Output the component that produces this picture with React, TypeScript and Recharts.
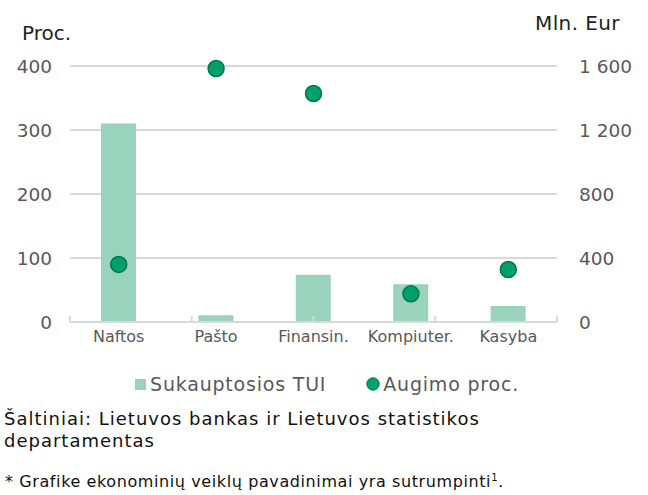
import React from "react"
import {
  ComposedChart, Bar, Line, XAxis, YAxis, CartesianGrid, Legend,
} from "recharts"

const categories = ["Naftos", "Pašto", "Finansin.", "Kompiuter.", "Kasyba"]
const accumulatedFdi = [1241, 42, 296, 236, 100]   // Mln. Eur, right axis
const growthPct = [90, 396, 357, 44, 82]            // Proc., left axis
const leftTicks = [0, 100, 200, 300, 400]
const rightTicks = [0, 400, 800, 1200, 1600]
const edgeTicks = [0, 1, 2, 3, 4, 5]

const data = categories.map((name, i) => ({
  name,
  fdi: accumulatedFdi[i],
  growth: growthPct[i],
}))

const FONT = "'DejaVu Sans', Verdana, sans-serif"
const TICK = "#595959"
const GRID = "#d9d9d9"
const BAR = "#99d3bd"
const DOT = "#00a06b"
const DOT_EDGE = "#00744d"

const spaced = (v: number) => String(v).replace(/\B(?=(\d{3})+(?!\d))/g, " ")

function LegendContent(props: any) {
  // bars first, as in the original legend
  const items = [...(props.payload || [])].sort((a: any, b: any) =>
    (a.type === "circle" ? 1 : 0) - (b.type === "circle" ? 1 : 0))
  return (
    <div style={{ display: "flex", justifyContent: "center", gap: 40, paddingLeft: 6, fontFamily: FONT, fontSize: 19, letterSpacing: 0.8, color: TICK }}>
      {items.map((it: any) => (
        <span key={it.value} style={{ display: "flex", alignItems: "center" }}>
          {it.type === "circle" ? (
            <svg width={14} height={14} style={{ marginRight: 3 }}>
              <circle cx={7} cy={7} r={6.2} fill={DOT} stroke={DOT_EDGE} strokeWidth={1} />
            </svg>
          ) : (
            <svg width={11} height={11} style={{ marginRight: 4 }}>
              <rect width={11} height={11} fill={BAR} />
            </svg>
          )}
          {it.value}
        </span>
      ))}
    </div>
  )
}

const NoLabel = () => <g />

export default function App() {
  return (
    <div style={{ position: "absolute", left: 0, top: 0, width: 648, height: 495, background: "#fff", fontFamily: FONT }}>
      <div style={{ position: "absolute", left: 22, top: 21, fontSize: 20, color: "#222" }}>Proc.</div>
      <div style={{ position: "absolute", left: 535, top: 11, fontSize: 20, color: "#222", letterSpacing: 0.4 }}>Mln. Eur</div>

      <ComposedChart
        width={648}
        height={360}
        data={data}
        margin={{ top: 66, right: 0, bottom: 8, left: 0 }}
        style={{ position: "absolute", left: 0, top: 0 }}
      >
        <CartesianGrid yAxisId="left" vertical={false} stroke={GRID} strokeWidth={2} />
        <XAxis
          xAxisId="edges"
          type="number"
          domain={[0, 5]}
          ticks={edgeTicks}
          height={1}
          mirror
          tick={NoLabel}
          axisLine={false}
          tickSize={6}
          tickLine={{ stroke: GRID, strokeWidth: 2 }}
          allowDataOverflow
        />
        <XAxis
          dataKey="name"
          height={30}
          tickLine={false}
          tickMargin={3}
          axisLine={{ stroke: GRID, strokeWidth: 2 }}
          tick={{ fontSize: 16, fill: TICK, fontFamily: FONT }}
          interval={0}
        />
        <YAxis
          yAxisId="left"
          width={70}
          domain={[0, 400]}
          ticks={leftTicks}
          axisLine={false}
          tickLine={false}
          tickMargin={12}
          tick={{ fontSize: 18.5, fill: TICK, fontFamily: FONT }}
        />
        <YAxis
          yAxisId="right"
          orientation="right"
          width={91}
          domain={[0, 1600]}
          ticks={rightTicks}
          tickFormatter={spaced}
          axisLine={false}
          tickLine={false}
          tickMargin={16}
          tick={{ fontSize: 18.5, fill: TICK, fontFamily: FONT, textAnchor: "start" }}
        />
        <Bar
          yAxisId="right"
          dataKey="fdi"
          name="Sukauptosios TUI"
          fill={BAR}
          barSize={35}
          legendType="square"
          isAnimationActive={false}
        />
        <Line
          yAxisId="left"
          dataKey="growth"
          name="Augimo proc."
          stroke="none"
          strokeWidth={0}
          dot={{ r: 8, fill: DOT, stroke: DOT_EDGE, strokeWidth: 1.5 }}
          activeDot={false}
          legendType="circle"
          isAnimationActive={false}
        />
        <Legend
          verticalAlign="middle"
          content={<LegendContent />}
          wrapperStyle={{ top: 373, left: 0, width: 648 }}
        />
      </ComposedChart>

      <div style={{ position: "absolute", left: 4, top: 408, fontSize: 18, letterSpacing: 1, lineHeight: "22px", color: "#111", width: 520 }}>
        Šaltiniai: Lietuvos bankas ir Lietuvos statistikos departamentas
      </div>
      <div style={{ position: "absolute", left: 5, top: 472, fontSize: 16, letterSpacing: 0.6, color: "#111" }}>
        * Grafike ekonominių veiklų pavadinimai yra sutrumpinti<sup style={{ fontSize: 10 }}>1</sup>.
      </div>
    </div>
  )
}
